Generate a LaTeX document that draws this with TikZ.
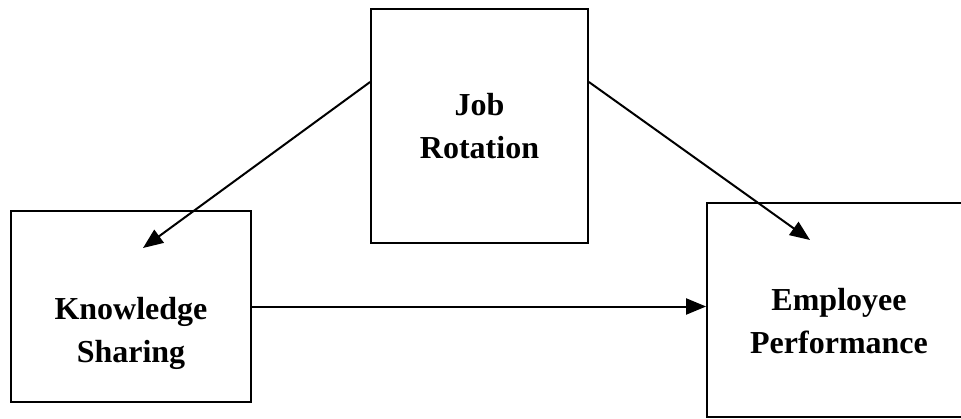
\documentclass[tikz,border=0pt]{standalone}
\usepackage{fontspec}
\setmainfont{Liberation Serif}
\usetikzlibrary{arrows.meta}
\begin{document}
\begin{tikzpicture}[x=1pt,y=1pt,
  box/.style={draw, line width=1.8pt, rectangle, inner sep=0pt},
  lbl/.style={font=\fontsize{32}{43}\selectfont\bfseries, align=center, inner sep=0pt},
  conn/.style={line width=2pt, -{Triangle[length=20pt,width=16pt]}}]
\useasboundingbox (0,0) rectangle (961,418);
\clip (0,0) rectangle (961,418);
\node[box, minimum width=217pt, minimum height=234pt] (jr) at (479.5,292) {};
\node[box, minimum width=240pt, minimum height=191pt] (ks) at (131,111.5) {};
\node[box, minimum width=264pt, minimum height=214pt] (ep) at (839,108) {};
\node[lbl] (jrt) at (479.5,292) {Job\\Rotation};
\node[lbl] (kst) at (131,85) {Knowledge\\Sharing};
\node[lbl] (ept) at (839,97) {Employee\\Performance};
\coordinate (kstip) at (143,170);
\coordinate (eptip) at (810,178);
\draw[conn] ([yshift=44pt]jr.west) -- (kstip);
\draw[conn] ([yshift=44pt]jr.east) -- (eptip);
\draw[conn] (ks.east) -- (ks.east -| ep.west);
\end{tikzpicture}
\end{document}
